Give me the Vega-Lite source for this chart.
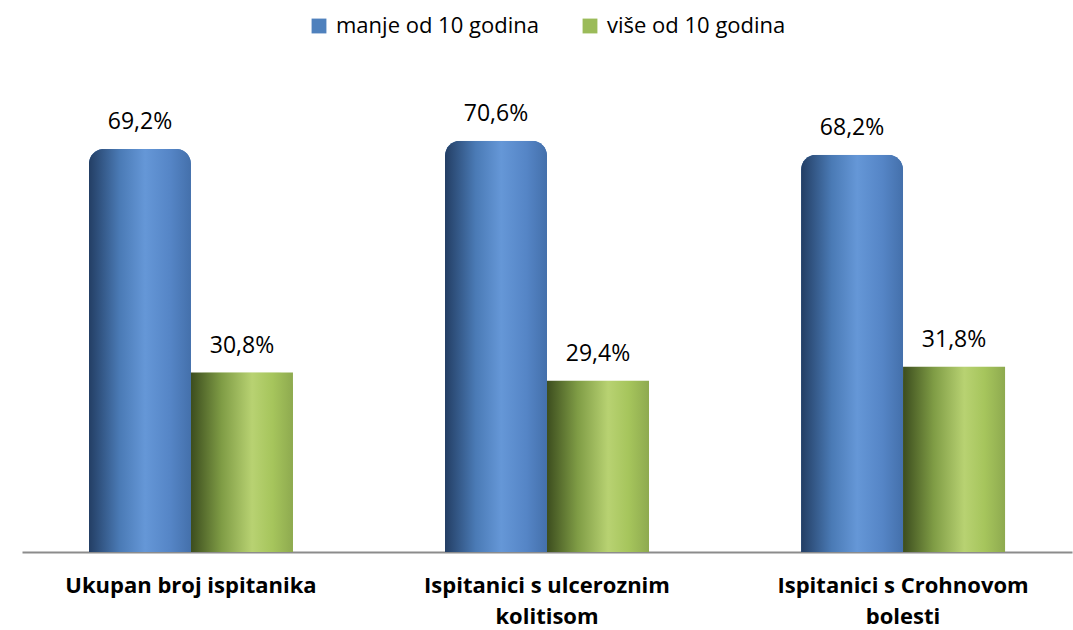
{
  "$schema": "https://vega.github.io/schema/vega-lite/v6.json",
  "width": 1050,
  "height": 466,
  "autosize": {"type": "none"},
  "padding": {"left": 22, "right": 1, "top": 86, "bottom": 78},
  "config": {
    "view": {"stroke": null},
    "font": "Open Sans",
    "locale": {"number": {"decimal": ",", "thousands": ".", "grouping": [3], "currency": ["", " €"]}}
  },
  "data": {
    "values": [
      {"kategorija": "Ukupan broj ispitanika", "skupina": "manje od 10 godina", "udio": 0.692},
      {"kategorija": "Ukupan broj ispitanika", "skupina": "više od 10 godina", "udio": 0.308},
      {"kategorija": "Ispitanici s ulceroznim kolitisom", "skupina": "manje od 10 godina", "udio": 0.706},
      {"kategorija": "Ispitanici s ulceroznim kolitisom", "skupina": "više od 10 godina", "udio": 0.294},
      {"kategorija": "Ispitanici s Crohnovom bolesti", "skupina": "manje od 10 godina", "udio": 0.682},
      {"kategorija": "Ispitanici s Crohnovom bolesti", "skupina": "više od 10 godina", "udio": 0.318}
    ]
  },
  "encoding": {
    "x": {
      "field": "kategorija",
      "type": "nominal",
      "sort": null,
      "scale": {"paddingInner": 0.427, "paddingOuter": 0.188},
      "axis": {
        "title": null,
        "domainColor": "#8c8c8c",
        "domainWidth": 2,
        "ticks": false,
        "labelAngle": 0,
        "labelFont": "Open Sans",
        "labelFontSize": 22,
        "labelFontWeight": "bold",
        "labelColor": "#000000",
        "labelPadding": 23,
        "labelLineHeight": 31,
        "labelLimit": 400,
        "labelExpr": "datum.label == 'Ispitanici s ulceroznim kolitisom' ? ['Ispitanici s ulceroznim', 'kolitisom'] : datum.label == 'Ispitanici s Crohnovom bolesti' ? ['Ispitanici s Crohnovom', 'bolesti'] : datum.label"
      }
    },
    "xOffset": {
      "field": "skupina",
      "type": "nominal",
      "scale": {"domain": ["manje od 10 godina", "više od 10 godina"], "paddingInner": 0, "paddingOuter": 0}
    },
    "y": {
      "field": "udio",
      "type": "quantitative",
      "scale": {"domain": [0, 0.8], "nice": false},
      "axis": null
    }
  },
  "layer": [
    {
      "mark": {"type": "bar", "cornerRadiusTopLeft": 15, "cornerRadiusTopRight": 15},
      "encoding": {
        "color": {
          "field": "skupina",
          "type": "nominal",
          "scale": {"domain": ["manje od 10 godina", "više od 10 godina"], "range": ["#4f81bd", "#9bbb59"]},
          "legend": {
            "title": null,
            "orient": "none",
            "legendX": 286,
            "legendY": -71,
            "direction": "horizontal",
            "symbolType": "square",
            "symbolSize": 220,
            "symbolStrokeWidth": 0,
            "labelFont": "Open Sans",
            "labelFontSize": 22,
            "labelColor": "#000000",
            "labelOffset": 6,
            "columnPadding": 40,
            "labelLimit": 400
          }
        }
      }
    },
    {
      "transform": [{"filter": "datum.skupina == 'manje od 10 godina'"}],
      "mark": {
        "type": "bar",
        "cornerRadiusTopLeft": 15,
        "cornerRadiusTopRight": 15,
        "color": {
          "gradient": "linear", "x1": 0, "y1": 0, "x2": 1, "y2": 0,
          "stops": [
            {"offset": 0, "color": "#233e64"},
            {"offset": 0.3, "color": "#4a7ab5"},
            {"offset": 0.55, "color": "#6597d7"},
            {"offset": 0.8, "color": "#5585c6"},
            {"offset": 1, "color": "#4470ab"}
          ]
        }
      }
    },
    {
      "transform": [{"filter": "datum.skupina == 'više od 10 godina'"}],
      "mark": {
        "type": "bar",
        "color": {
          "gradient": "linear", "x1": 0, "y1": 0, "x2": 1, "y2": 0,
          "stops": [
            {"offset": 0, "color": "#3c4d1e"},
            {"offset": 0.3, "color": "#7f9c45"},
            {"offset": 0.6, "color": "#b8d272"},
            {"offset": 0.8, "color": "#a6c55c"},
            {"offset": 1, "color": "#8eaa4f"}
          ]
        }
      }
    },
    {
      "mark": {"type": "text", "baseline": "alphabetic", "dy": -20, "font": "Open Sans", "fontSize": 23, "color": "#000000"},
      "encoding": {
        "text": {"field": "udio", "type": "quantitative", "format": ".1%"}
      }
    }
  ]
}
